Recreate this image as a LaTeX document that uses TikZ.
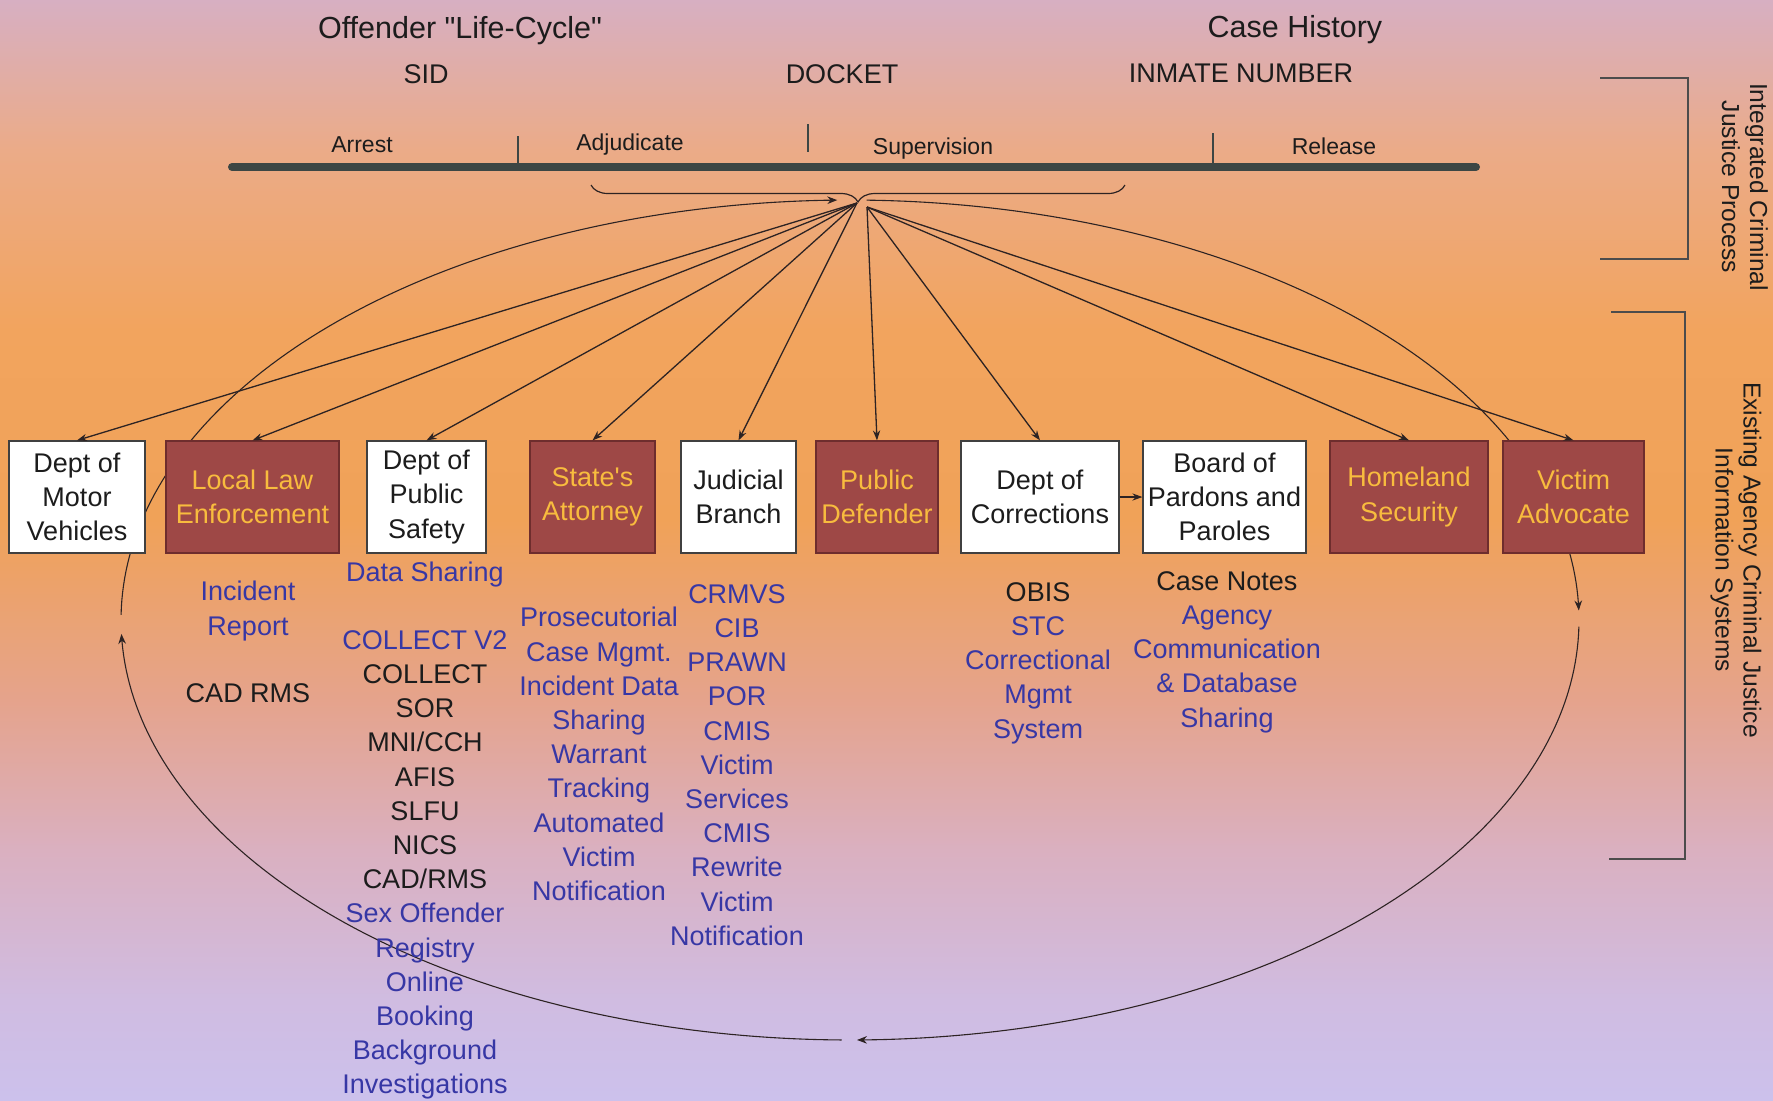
\documentclass[tikz,border=0pt]{standalone}
\usepackage{fontspec}
\setmainfont{Liberation Sans}
% same face without the TeX quote mapping, so " and ' stay straight
\newfontfamily\rawsans{Liberation Sans}
\usetikzlibrary{arrows.meta,decorations.pathreplacing}

% palette
\definecolor{agencyred}{RGB}{158,72,70}
\definecolor{agencyredline}{RGB}{110,45,45}
\definecolor{agencygold}{RGB}{248,188,62}
\definecolor{sysblue}{RGB}{55,55,165}
\definecolor{ink}{RGB}{28,28,28}
\definecolor{barcol}{RGB}{60,70,68}
\definecolor{linecol}{RGB}{45,35,35}

% backdrop colours, top to bottom
\definecolor{bgA}{RGB}{215,175,194}
\definecolor{bgB}{RGB}{235,171,136}
\definecolor{bgC}{RGB}{242,164,94}
\definecolor{bgD}{RGB}{240,162,88}
\definecolor{bgE}{RGB}{229,163,140}
\definecolor{bgF}{RGB}{218,176,192}
\definecolor{bgG}{RGB}{208,188,225}
\definecolor{bgH}{RGB}{204,193,236}
\pgfdeclareverticalshading{backdrop}{100bp}{%
  color(0bp)=(bgH); color(25bp)=(bgH); color(29.55bp)=(bgG);
  color(36.36bp)=(bgF); color(43.18bp)=(bgE); color(51.36bp)=(bgD);
  color(60bp)=(bgC); color(68.18bp)=(bgB); color(75bp)=(bgA); color(100bp)=(bgA)}

\tikzset{
  agency/.style={line width=0.6pt, minimum height=56pt, inner sep=0pt,
    align=center, font=\rawsans\fontsize{13.5}{17.1}\selectfont},
  whitebox/.style={agency, draw=black!75, fill=white, text=ink},
  redbox/.style={agency, draw=agencyredline, fill=agencyred, text=agencygold},
  syslist/.style={anchor=north, inner sep=0pt, align=center,
    font=\rawsans\fontsize{13.5}{17.1}\selectfont, text=sysblue},
  heading/.style={anchor=base, inner sep=0pt, text=ink,
    font=\rawsans\fontsize{15.25}{18}\selectfont},
  idlabel/.style={anchor=base, inner sep=0pt, text=ink,
    font=\rawsans\fontsize{13.5}{16}\selectfont},
  phase/.style={anchor=base, inner sep=0pt, text=ink,
    font=\rawsans\fontsize{11.5}{14}\selectfont},
  sidelabel/.style={rotate=-90, inner sep=0pt, align=center, text=ink,
    font=\rawsans\fontsize{12.3}{14}\selectfont},
  feed/.style={draw=linecol, line width=0.65pt,
    -{Stealth[length=5pt,width=3.6pt]}},
  loopline/.style={draw=linecol, line width=0.55pt,
    -{Stealth[length=5pt,width=3.8pt]}},
  bracket/.style={draw=black!70, line width=0.7pt},
}

\begin{document}
\begin{tikzpicture}[x=0.5pt,y=-0.5pt]
\useasboundingbox (0,0) rectangle (1773,1100);
\shade[shading=backdrop] (0,0) rectangle (1773,1100);

% headings
\node[heading] (lifecycle) at (460,38) {Offender "Life-Cycle"};
\node[heading] (casehist) at (1295,37) {Case History};
\node[idlabel] (sid) at (426,83) {SID};
\node[idlabel] (docket) at (842,83) {DOCKET};
\node[idlabel] (inmate) at (1241,82) {INMATE NUMBER};

% process time line
\draw[barcol, line width=4pt, line cap=round] (232,167) -- (1476,167);
\draw[barcol, line width=0.8pt] (518,136) -- (518,164);
\draw[barcol, line width=0.8pt] (808,124) -- (808,152);
\draw[barcol, line width=0.8pt] (1213,133) -- (1213,164);
\node[phase] (arrest) at (362,152) {Arrest};
\node[phase] (adjud) at (630,150) {Adjudicate};
\node[phase] (superv) at (933,154) {Supervision};
\node[phase] (release) at (1334,154) {Release};

% brace gathering the process stages
\draw[linecol, line width=0.6pt, decorate,
  decoration={brace, mirror, amplitude=8.5pt}] (591,185) -- (1125,185);

% side brackets and their labels
\draw[bracket] (1600,78) -- (1688,78) -- (1688,259) -- (1600,259);
\draw[bracket] (1611,312) -- (1685,312) -- (1685,859) -- (1609,859);
\node[sidelabel] (icjp) at (1745,187) {Integrated Criminal\\Justice Process};
\node[sidelabel] (eacj) at (1736,560) {Existing Agency Criminal Justice\\Information Systems};

% information cycle loop
\draw[loopline] plot[domain=180.7:269.0, samples=90] ({850+729*cos(\x)},{620+420*sin(\x)});
\draw[loopline] plot[domain=271.3:358.7, samples=90] ({850+729*cos(\x)},{620+420*sin(\x)});
\draw[loopline] plot[domain=0.9:89.45, samples=90] ({850+729*cos(\x)},{620+420*sin(\x)});
\draw[loopline] plot[domain=90.65:178.1, samples=90] ({850+729*cos(\x)},{620+420*sin(\x)});

% agencies
\node[whitebox, minimum width=68pt]   (dmv) at (77,497)    {Dept of\\Motor\\Vehicles};
\node[redbox,   minimum width=86.5pt] (lle) at (252.5,497) {Local Law\\Enforcement};
\node[whitebox, minimum width=59.5pt] (dps) at (426.5,497) {Dept of\\Public\\Safety};
\node[redbox,   minimum width=62.5pt] (sa)  at (592.5,497) {State's\\Attorney};
\node[whitebox, minimum width=57.5pt] (jb)  at (738.5,497) {Judicial\\Branch};
\node[redbox,   minimum width=61pt]   (pd)  at (877,497)   {Public\\Defender};
\node[whitebox, minimum width=79pt]   (doc) at (1040,497)  {Dept of\\Corrections};
\node[whitebox, minimum width=81.5pt] (bpp) at (1224.5,497){Board of\\Pardons and\\Paroles};
\node[redbox,   minimum width=79pt]   (hs)  at (1409,497)  {Homeland\\Security};
\node[redbox,   minimum width=70.5pt] (va)  at (1573.5,497){Victim\\Advocate};

% hub and feeds to each agency
\coordinate (hubL) at (857,203);
\coordinate (hubR) at (867,207);
\foreach \b in {dmv,lle,dps,sa,jb} \draw[feed] (hubL) -- (\b.north);
\foreach \b in {pd,doc,hs,va} \draw[feed] (hubR) -- (\b.north);
\draw[feed] (doc.east) -- (bpp.west);

% agency systems
\node[syslist] (lleSys) at (248,581) {Incident\\Report};
\node[syslist, text=ink] (lleCad) at (248,683) {CAD RMS};
\node[syslist] (dpsShare) at (425,562) {Data Sharing};
\node[syslist] (dpsSys) at (425,630) {COLLECT V2\\
  \textcolor{ink}{COLLECT}\\ \textcolor{ink}{SOR}\\ \textcolor{ink}{MNI/CCH}\\
  \textcolor{ink}{AFIS}\\ \textcolor{ink}{SLFU}\\ \textcolor{ink}{NICS}\\
  \textcolor{ink}{CAD/RMS}\\ Sex Offender\\ Registry\\ Online\\ Booking\\
  Background\\ Investigations};
\node[syslist] (saSys) at (599,607) {Prosecutorial\\ Case Mgmt.\\ Incident Data\\
  Sharing\\ Warrant\\ Tracking\\ Automated\\ Victim\\ Notification};
\node[syslist] (jbSys) at (737,584) {CRMVS\\ CIB\\ PRAWN\\ POR\\ CMIS\\ Victim\\
  Services\\ CMIS\\ Rewrite\\ Victim\\ Notification};
\node[syslist] (docSys) at (1038,582) {\textcolor{ink}{OBIS}\\ STC\\ Correctional\\
  Mgmt\\ System};
\node[syslist] (bppSys) at (1227,571) {\textcolor{ink}{Case Notes}\\ Agency\\
  Communication\\ \& Database\\ Sharing};
\end{tikzpicture}
\end{document}
